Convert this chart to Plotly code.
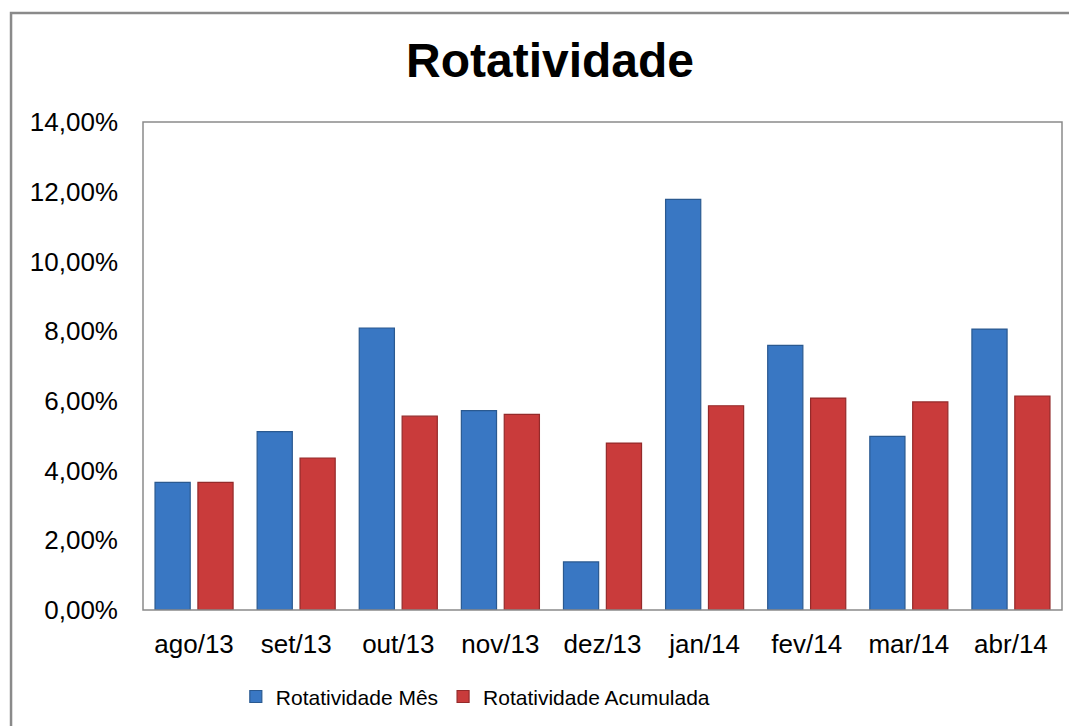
import plotly.graph_objects as go

categories = ["ago/13", "set/13", "out/13", "nov/13", "dez/13", "jan/14", "fev/14", "mar/14", "abr/14"]
rot_mes = [3.66, 5.12, 8.09, 5.72, 1.38, 11.78, 7.59, 4.98, 8.06]
rot_acum = [3.66, 4.36, 5.56, 5.61, 4.79, 5.86, 6.08, 5.97, 6.14]
y_ticks = [0, 2, 4, 6, 8, 10, 12, 14]
y_tick_labels = ["0,00%", "2,00%", "4,00%", "6,00%", "8,00%", "10,00%", "12,00%", "14,00%"]

FONT = "Liberation Sans, Arial, sans-serif"

fig = go.Figure()
fig.add_trace(go.Bar(
    x=categories, y=rot_mes, name="Rotatividade Mês",
    marker=dict(color="#3977c3", line=dict(color="#2a5990", width=1.2)),
))
fig.add_trace(go.Bar(
    x=categories, y=rot_acum, name="Rotatividade Acumulada",
    marker=dict(color="#c93b3b", line=dict(color="#942a2a", width=1.2)),
))

fig.update_layout(
    width=1077, height=726,
    margin=dict(l=135, r=23, t=114, b=124),
    paper_bgcolor="white", plot_bgcolor="white",
    bargap=0.16, bargroupgap=0.18,
    font=dict(family=FONT, color="#000000"),
    title=dict(text="<b>Rotatividade</b>", font=dict(size=48, family=FONT),
               x=0.5033, xref="container", xanchor="center",
               y=0.9284, yref="container", yanchor="middle"),
    legend=dict(orientation="h", x=0.101, xanchor="left", y=-0.178, yanchor="middle",
                font=dict(size=21), itemwidth=30, traceorder="normal"),
    showlegend=True,
)
fig.update_yaxes(range=[0, 14], tickvals=y_ticks, ticktext=y_tick_labels,
                 showgrid=False, zeroline=False, showline=False,
                 tickfont=dict(size=26), ticklabelstandoff=24)
fig.update_xaxes(showgrid=False, showline=False, tickfont=dict(size=26), ticklabelstandoff=16)

# plot-area border
fig.add_shape(type="rect", xref="paper", yref="paper", x0=0, y0=0, x1=1, y1=1,
              line=dict(color="#8a8a8a", width=1.5), fillcolor="rgba(0,0,0,0)", layer="above")
# chart outer border
fig.add_shape(type="rect", xref="paper", yref="paper", x0=-0.1436, y0=-0.5, x1=1.2, y1=1.2234,
              line=dict(color="#8a8a8a", width=2.5), fillcolor="rgba(0,0,0,0)")

fig.write_html("out.html")
